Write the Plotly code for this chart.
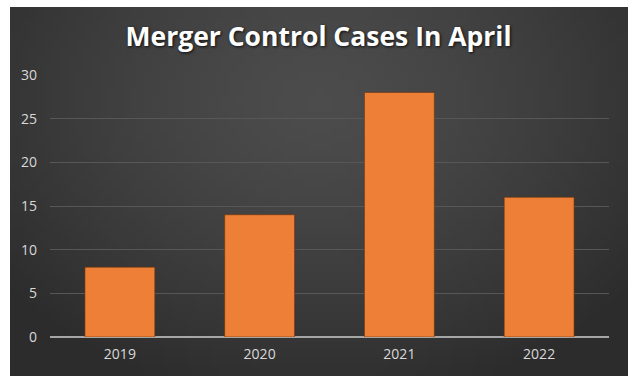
import base64, struct, zlib, math
import plotly.graph_objects as go

years = ["2019", "2020", "2021", "2022"]
cases = [8, 14, 28, 16]
y_ticks = [0, 5, 10, 15, 20, 25, 30]
title_text = "Merger Control Cases In April"


def make_png(w, h, fn):
    raw = b""
    for j in range(h):
        row = bytearray([0])
        for i in range(w):
            row.extend(fn(i / (w - 1), j / (h - 1)))
        raw += bytes(row)

    def chunk(tag, data):
        c = tag + data
        return struct.pack(">I", len(data)) + c + struct.pack(">I", zlib.crc32(c) & 0xffffffff)

    png = b"\x89PNG\r\n\x1a\n"
    png += chunk(b"IHDR", struct.pack(">IIBBBBB", w, h, 8, 2, 0, 0, 0))
    png += chunk(b"IDAT", zlib.compress(raw, 9))
    png += chunk(b"IEND", b"")
    return "data:image/png;base64," + base64.b64encode(png).decode()


def bg_pixel(u, v):
    dx = (u - 0.5) / 0.65
    dy = (v - 0.25) / 0.85
    d = min(1.0, math.sqrt(dx * dx + dy * dy))
    c = int(round(76 - 32 * d ** 1.4))
    return (c, c, c)


bg_img = make_png(80, 48, bg_pixel)

fig = go.Figure()
fig.add_trace(go.Bar(
    x=years, y=cases,
    marker=dict(color="#ee7f36", line=dict(color="rgba(110,50,10,0.6)", width=1)),
    width=0.5,
    hoverinfo="x+y",
))

L, R, T, B = 50, 31, 75, 47
pw = 640 - L - R
ph = 384 - T - B
x0, x1, y0, y1 = 10, 628, 7, 376

fig.update_layout(
    width=640, height=384,
    margin=dict(l=L, r=R, t=T, b=B),
    paper_bgcolor="white",
    plot_bgcolor="rgba(0,0,0,0)",
    showlegend=False,
    images=[dict(
        source=bg_img, xref="paper", yref="paper",
        x=(x0 - L) / pw, y=(384 - B - y0) / ph,
        sizex=(x1 - x0) / pw, sizey=(y1 - y0) / ph,
        xanchor="left", yanchor="top", sizing="stretch", layer="below",
    )],
    title=dict(
        text=title_text, x=(318.5 - L) / pw, xref="paper", xanchor="center",
        y=(384 - 37) / 384, yref="container", yanchor="middle",
        font=dict(family="Open Sans", size=26.5, color="white", weight="bold",
                  shadow="1px 1px 3px rgba(0,0,0,0.8)"),
    ),
    font=dict(family="Open Sans", color="#d9d9d9", size=14),
    xaxis=dict(
        showgrid=False, ticks="", showline=False,
        tickfont=dict(size=14, color="#d9d9d9"),
        ticklabelstandoff=7,
    ),
    yaxis=dict(
        range=[0, 30], tickvals=y_ticks, ticks="",
        showgrid=True, gridcolor="#575757", gridwidth=1,
        zeroline=True, zerolinecolor="#a6a6a6", zerolinewidth=2,
        showline=False,
        tickfont=dict(size=14, color="#d9d9d9"),
        ticklabelstandoff=12,
    ),
)

fig.write_html("out.html", config={"displayModeBar": False},
               post_script="document.body.style.margin='0';")
